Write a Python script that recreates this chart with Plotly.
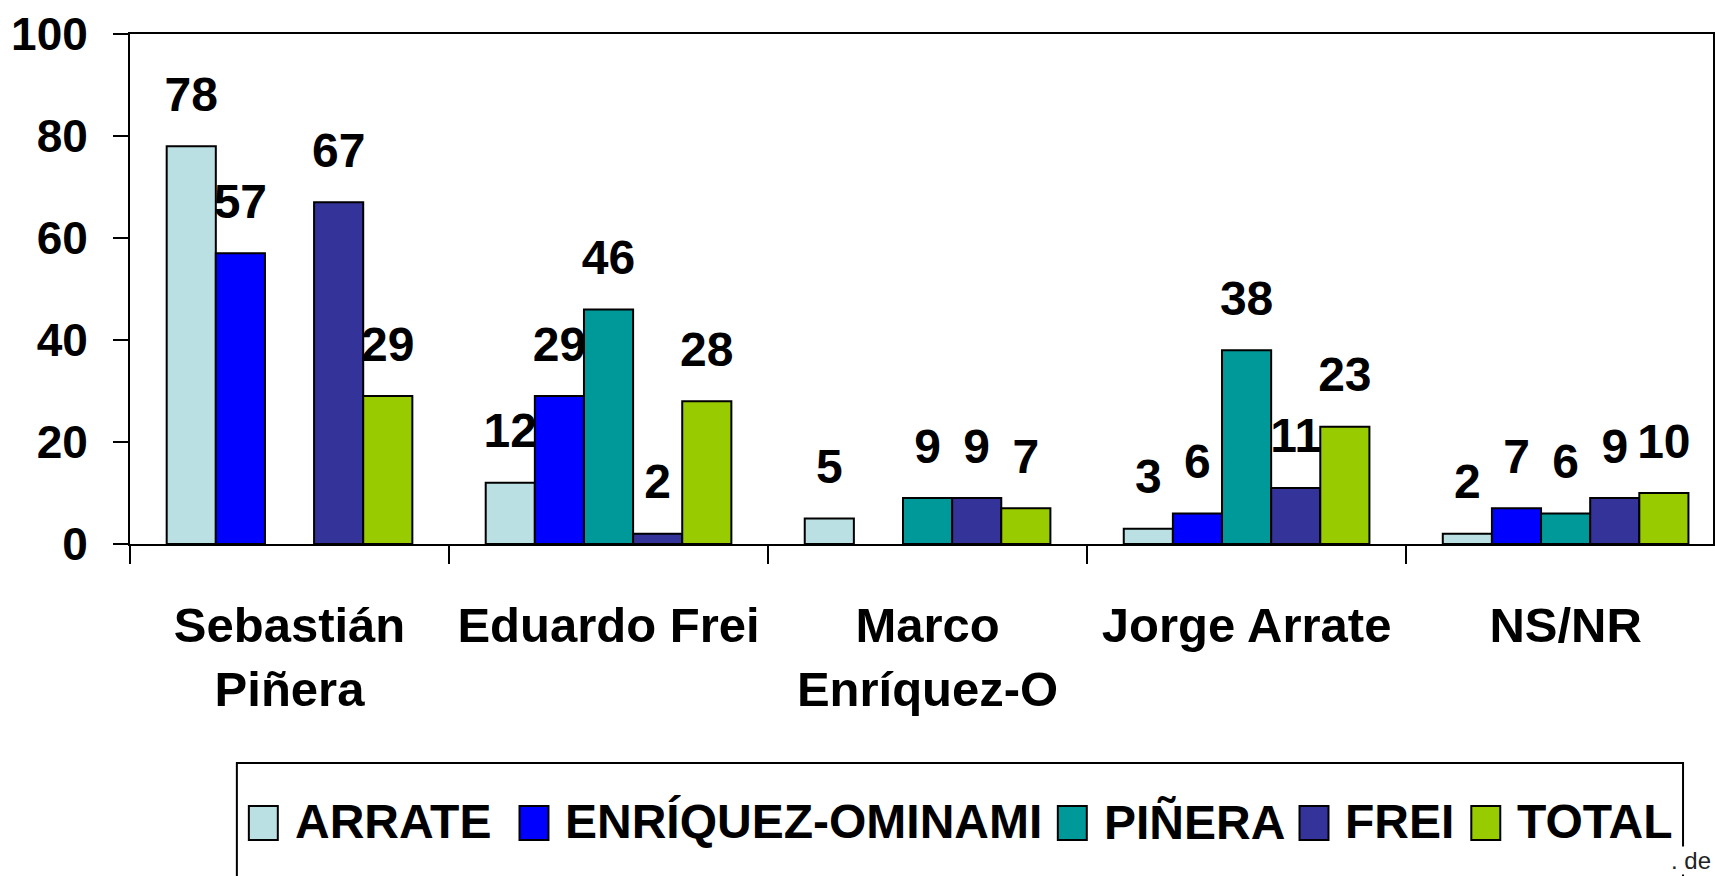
import plotly.graph_objects as go

# Survey results: second-preference vote by first-round candidate voters
categories = ["Sebastián<br>Piñera", "Eduardo Frei", "Marco<br>Enríquez-O", "Jorge Arrate", "NS/NR"]
series_names = ["ARRATE", "ENRÍQUEZ-OMINAMI", "PIÑERA", "FREI", "TOTAL"]
arrate = [78, 12, 5, 3, 2]
enriquez = [57, 29, None, 6, 7]
pinera = [None, 46, 9, 38, 6]
frei = [67, 2, 9, 11, 9]
total = [29, 28, 7, 23, 10]
y_ticks = [0, 20, 40, 60, 80, 100]

series_values = [arrate, enriquez, pinera, frei, total]
colors = ["#BBE0E3", "#0000FF", "#009999", "#333399", "#99CC00"]

FONT = "Liberation Sans, Arial, Helvetica, sans-serif"
W, H = 1715, 876
L, R, T, B = 130, 0, 34, 332
GAP = 0.23

fig = go.Figure()

for name, vals, col in zip(series_names, series_values, colors):
    fig.add_trace(go.Bar(
        x=categories, y=vals, name=name, offsetgroup=name,
        marker=dict(color=col, line=dict(color="#000000", width=2)),
        showlegend=False, hoverinfo="x+y+name",
    ))

# value labels, grouped the same way as the bars and lifted above each bar top
for name, vals in zip(series_names, series_values):
    fig.add_trace(go.Scatter(
        x=categories, y=vals, offsetgroup=name, mode="markers+text",
        text=[("" if v is None else str(v)) for v in vals],
        textposition="top center",
        textfont=dict(family=FONT, size=48, color="#000000", weight="bold"),
        marker=dict(size=36, opacity=0),
        showlegend=False, hoverinfo="skip", cliponaxis=False,
    ))

plot_w = W - L - R
plot_h = H - T - B


def px_x(px):
    return (px - L) / plot_w


def px_y(py):
    return (H - B - py) / plot_h


shapes = []
annotations = []

# legend box (extends below the page edge)
shapes.append(dict(type="rect", xref="paper", yref="paper",
                   x0=px_x(237), x1=px_x(1685), y0=px_y(920), y1=px_y(763),
                   line=dict(color="#000000", width=2), fillcolor="#FFFFFF", layer="above"))

legend_sym_x = [249, 520, 1059, 1301, 1473]
for name, col, sx in zip(series_names, colors, legend_sym_x):
    shapes.append(dict(type="rect", xref="paper", yref="paper",
                       x0=px_x(sx), x1=px_x(sx + 29), y0=px_y(840), y1=px_y(806),
                       line=dict(color="#000000", width=2), fillcolor=col, layer="above"))
    annotations.append(dict(xref="paper", yref="paper", x=px_x(sx + 44), y=px_y(822),
                            xanchor="left", yanchor="middle", showarrow=False, text=name,
                            font=dict(family=FONT, size=48, color="#000000", weight="bold")))

# source note fragment in the bottom-right corner
annotations.append(dict(xref="paper", yref="paper", x=px_x(1714), y=px_y(875),
                        xanchor="right", yanchor="bottom", showarrow=False, text=". de",
                        bgcolor="#FFFFFF", borderpad=0,
                        font=dict(family=FONT, size=24, color="#222222")))

fig.update_layout(
    width=W, height=H,
    margin=dict(l=L, r=R, t=T, b=B, pad=0),
    paper_bgcolor="#FFFFFF", plot_bgcolor="#FFFFFF",
    barmode="group", bargap=GAP, bargroupgap=0,
    scattermode="group", scattergap=GAP,
    showlegend=False,
    shapes=shapes, annotations=annotations,
    font=dict(family=FONT, color="#000000"),
)

fig.update_xaxes(
    type="category", range=[-0.5, 4.462],
    showline=True, linecolor="#000000", linewidth=2, mirror=True,
    ticks="outside", tickson="boundaries", ticklen=18, tickwidth=2, tickcolor="#000000",
    tickfont=dict(family=FONT, size=49, color="#000000", weight="bold"),
    ticklabelstandoff=37, showgrid=False, zeroline=False,
)
fig.update_yaxes(
    range=[0, 100], tickvals=y_ticks,
    showline=True, linecolor="#000000", linewidth=2, mirror=True,
    ticks="outside", ticklen=15, tickwidth=2, tickcolor="#000000",
    tickfont=dict(family=FONT, size=46, color="#000000", weight="bold"),
    ticklabelstandoff=16, showgrid=False, zeroline=False,
)

fig.write_html("out.html")
